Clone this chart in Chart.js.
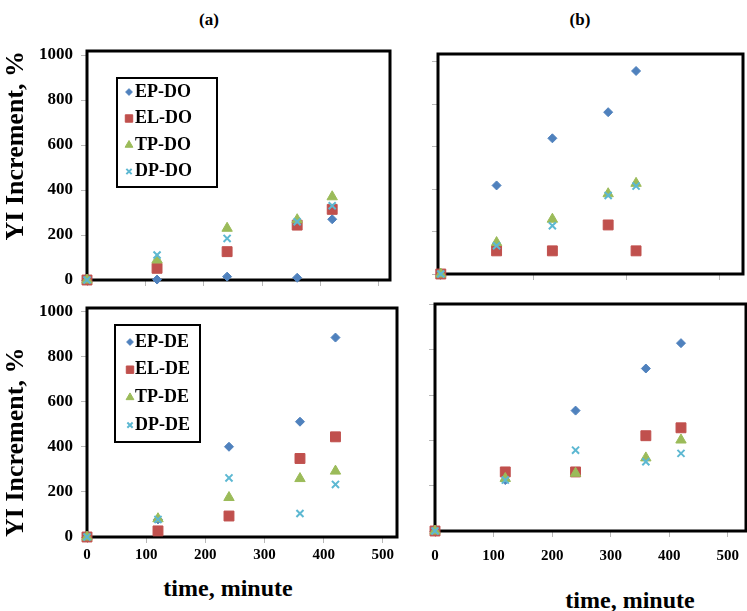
<!DOCTYPE html>
<html>
<head>
<meta charset="utf-8">
<script src="https://cdn.jsdelivr.net/npm/chart.js"></script>
<style>
  body { margin: 0; background: #fff; width: 747px; height: 611px; position: relative; overflow: hidden;
         font-family: "Liberation Serif", "Times New Roman", serif; font-weight: bold; color: #000; }
  canvas { position: absolute; }
  .lbl { position: absolute; transform: translate(-50%, -50%); white-space: nowrap; }
</style>
</head>
<body>
<div class="lbl" style="left:209px; top:20px; font-size:17px">(a)</div>
<div class="lbl" style="left:580px; top:20px; font-size:17px">(b)</div>
<div class="lbl" style="left:228px; top:588px; font-size:24px">time, minute</div>
<div class="lbl" style="left:630px; top:600px; font-size:24px">time, minute</div>

<canvas id="tl" width="400" height="290" style="left:0; top:0"></canvas>
<canvas id="tr" width="347" height="290" style="left:400px; top:0"></canvas>
<canvas id="bl" width="400" height="321" style="left:0; top:290px"></canvas>
<canvas id="br" width="347" height="321" style="left:400px; top:290px"></canvas>

<script>
const times = [0, 120, 240, 360, 420];
const labelsDO = ["EP-DO", "EL-DO", "TP-DO", "DP-DO"];
const labelsDE = ["EP-DE", "EL-DE", "TP-DE", "DP-DE"];

// (a) top
const epDOa = [0, 2, 15, 10, 270];
const elDOa = [0, 52, 126, 244, 314];
const tpDOa = [0, 89, 230, 268, 370];
const dpDOa = [0, 111, 185, 259, 330];

// (b) top
const epDOb = [0, 417, 639, 762, 956];
const elDOb = [0, 109, 109, 231, 109];
const tpDOb = [0, 148, 258, 378, 427];
const dpDOb = [0, 133, 227, 370, 414];

// (a) bottom
const epDEa = [0, 78, 400, 511, 884];
const elDEa = [0, 27, 93, 348, 444];
const tpDEa = [0, 81, 175, 259, 292];
const dpDEa = [0, 78, 262, 104, 233];

// (b) bottom
const epDEb = [0, 225, 532, 718, 830];
const elDEb = [0, 261, 261, 421, 456];
const tpDEb = [0, 232, 255, 323, 402];
const dpDEb = [0, 225, 357, 306, 343];

const yTickValues = [0, 200, 400, 600, 800, 1000];
const xTickValues = [0, 100, 200, 300, 400, 500];
const xTickValuesTopB = [0, 200, 400, 600];

const serif = "'Liberation Serif', 'Times New Roman', serif";

const markers = [
  { style: "rectRot", color: "#4F81BD", r: 4.5, bw: 1 },
  { style: "rect", color: "#C0504D", r: 7, bw: 1 },
  { style: "triangle", color: "#9BBB59", r: 6, bw: 1 },
  { style: "crossRot", color: "#5DB8D2", r: 5, bw: 2 }
];

function buildDatasets(labels, series) {
  return series.map((vals, i) => {
    const m = markers[i];
    return {
      label: labels[i],
      data: times.map((t, k) => ({ x: t, y: vals[k] })),
      pointStyle: m.style,
      pointRadius: m.r,
      pointBorderWidth: m.bw,
      backgroundColor: m.color,
      borderColor: m.color,
      showLine: false,
      clip: false,
      order: series.length - 1 - i
    };
  });
}

const framePlugin = {
  id: "frame",
  beforeDatasetsDraw(chart) {
    const a = chart.chartArea;
    const ctx = chart.ctx;
    ctx.save();
    ctx.lineWidth = 3;
    ctx.strokeStyle = "#000";
    ctx.strokeRect(a.left, a.top, a.right - a.left, a.bottom - a.top);
    ctx.restore();
  }
};

const boxLegend = {
  id: "boxLegend",
  afterDraw(chart, args, opts) {
    if (!opts.box) return;
    const ctx = chart.ctx;
    const [x, y, w, h] = opts.box;
    ctx.save();
    ctx.lineWidth = 2;
    ctx.strokeStyle = "#000";
    ctx.strokeRect(x, y, w, h);
    ctx.font = "bold 18px " + serif;
    ctx.textBaseline = "middle";
    chart.data.datasets.forEach((ds, i) => {
      const cy = y + opts.first + i * opts.step;
      ctx.fillStyle = ds.backgroundColor;
      ctx.strokeStyle = ds.borderColor;
      ctx.lineWidth = ds.pointBorderWidth;
      Chart.helpers.drawPoint(ctx, {
        pointStyle: ds.pointStyle,
        radius: ds.pointRadius * 0.75,
        borderWidth: ds.pointBorderWidth,
        rotation: 0
      }, x + opts.markX, cy);
      ctx.fillStyle = "#000";
      ctx.fillText(ds.label, x + opts.textX, cy);
    });
    ctx.restore();
  }
};

function drawPanel(id, p) {
  new Chart(document.getElementById(id), {
    type: "scatter",
    data: { datasets: p.datasets },
    plugins: [framePlugin, boxLegend],
    options: {
      responsive: false,
      animation: false,
      events: [],
      layout: { padding: p.padding, autoPadding: false },
      plugins: {
        legend: { display: false },
        tooltip: { enabled: false },
        boxLegend: p.legend || {}
      },
      scales: {
        x: {
          type: "linear",
          min: p.xMin || 0,
          max: p.xMax,
          afterBuildTicks: s => { s.ticks = p.xTicks.map(v => ({ value: v })); },
          afterFit: s => {
            s.height = p.xHeight;
            s.paddingLeft = 0;
            s.paddingRight = 0;
          },
          border: { display: false },
          grid: { drawOnChartArea: false, tickLength: 6, color: "#b8b8b8" },
          ticks: {
            display: p.xLabels,
            color: "#000",
            padding: p.xPad,
            maxRotation: 0,
            callback: v => String(v),
            font: { family: serif, size: 15, weight: "bold" }
          }
        },
        y: {
          type: "linear",
          min: 0,
          max: p.yMax,
          afterBuildTicks: s => { s.ticks = yTickValues.map(v => ({ value: v })); },
          afterFit: s => {
            s.width = p.yWidth;
            s.paddingTop = 0;
            s.paddingBottom = 0;
          },
          border: { display: false },
          grid: { drawOnChartArea: false, tickLength: 6, color: "#b8b8b8" },
          ticks: {
            display: p.yLabels,
            color: "#000",
            padding: 8,
            callback: v => String(v),
            font: { family: serif, size: 17, weight: "bold" }
          },
          title: {
            display: !!p.yTitle,
            text: p.yTitle,
            align: p.yTitleAlign,
            color: "#000",
            padding: { top: 1, bottom: 0 },
            font: { family: serif, size: 26, weight: "bold" }
          }
        }
      }
    }
  });
}

drawPanel("tl", {
  datasets: buildDatasets(labelsDO, [epDOa, elDOa, tpDOa, dpDOa]),
  xMax: 519, yMax: 1018, xTicks: xTickValues,
  xLabels: false, yLabels: true, xPad: 3,
  yTitle: "YI Increment, %", yTitleAlign: "end",
  padding: { left: 0, top: 51, right: 10, bottom: 0 },
  yWidth: 87, xHeight: 10,
  legend: { box: [117, 78, 100, 109], first: 14, step: 26.5, markX: 12, textX: 18 }
});

drawPanel("tr", {
  datasets: buildDatasets(labelsDO, [epDOb, elDOb, tpDOb, dpDOb]),
  xMin: -6, xMax: 650, yMax: 1036, xTicks: xTickValuesTopB,
  xLabels: false, yLabels: false, xPad: 3,
  padding: { left: 0, top: 54, right: 4, bottom: 0 },
  yWidth: 38, xHeight: 16
});

drawPanel("bl", {
  datasets: buildDatasets(labelsDE, [epDEa, elDEa, tpDEa, dpDEa]),
  xMax: 524, yMax: 1015, xTicks: xTickValues,
  xLabels: true, yLabels: true, xPad: 3,
  yTitle: "YI Increment, %", yTitleAlign: "start",
  padding: { left: 0, top: 18, right: 3, bottom: 0 },
  yWidth: 87, xHeight: 74,
  legend: { box: [115, 35, 85, 117], first: 17, step: 27.7, markX: 15, textX: 20 }
});

drawPanel("br", {
  datasets: buildDatasets(labelsDE, [epDEb, elDEb, tpDEb, dpDEb]),
  xMax: 531, yMax: 1003, xTicks: xTickValues,
  xLabels: true, yLabels: false, xPad: 10,
  padding: { left: 0, top: 14, right: 1, bottom: 0 },
  yWidth: 35, xHeight: 80
});
</script>
</body>
</html>
